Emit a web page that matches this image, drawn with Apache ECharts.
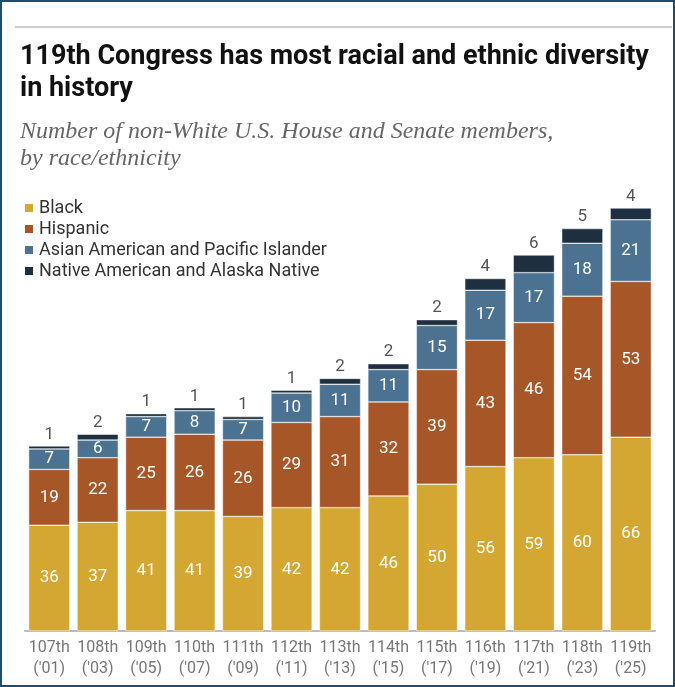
<!DOCTYPE html>
<html>
<head>
<meta charset="utf-8">
<script src="https://cdn.jsdelivr.net/npm/echarts@6/dist/echarts.min.js"></script>
<style>
  html, body { margin: 0; padding: 0; background: #fff; }
  #chart { width: 675px; height: 687px; box-sizing: border-box; border: 2px solid #1d4d6e; }
</style>
</head>
<body>
<div id="chart"></div>
<script>
// Data
const congresses = ["107th", "108th", "109th", "110th", "111th", "112th", "113th", "114th", "115th", "116th", "117th", "118th", "119th"];
const years = ["'01", "'03", "'05", "'07", "'09", "'11", "'13", "'15", "'17", "'19", "'21", "'23", "'25"];
const black = [36, 37, 41, 41, 39, 42, 42, 46, 50, 56, 59, 60, 66];
const hispanic = [19, 22, 25, 26, 26, 29, 31, 32, 39, 43, 46, 54, 53];
const asian = [7, 6, 7, 8, 7, 10, 11, 11, 15, 17, 17, 18, 21];
const native = [1, 2, 1, 1, 1, 1, 2, 2, 2, 4, 6, 5, 4];

const categories = congresses.map((c, i) => c + "\n(" + years[i] + ")");

const chart = echarts.init(document.getElementById("chart"));

const inside = {
    show: true,
    position: "inside",
    color: "#fff",
    fontFamily: "Roboto",
    fontSize: 17
};

const seg = (name, data, color, label) => ({
    name: name,
    type: "bar",
    stack: "total",
    data: data,
    barCategoryGap: "15%",
    itemStyle: { color: color, borderColor: "#fff", borderWidth: 0.5 },
    label: label,
    emphasis: { disabled: true }
});

chart.setOption({
    animation: false,
    textStyle: { fontFamily: "Roboto" },
    title: [
        {
            text: "119th Congress has most racial and ethnic diversity\nin history",
            left: 13,
            top: 34,
            textStyle: { fontFamily: "Roboto", fontWeight: "bold", fontSize: 27, color: "#111", lineHeight: 32 }
        },
        {
            text: "Number of non-White U.S. House and Senate members,\nby race/ethnicity",
            left: 13,
            top: 111,
            textStyle: { fontFamily: "Liberation Serif", fontStyle: "italic", fontWeight: "normal", fontSize: 24, color: "#666", lineHeight: 27 }
        }
    ],
    graphic: [
        {
            type: "line",
            shape: { x1: 13, y1: 25, x2: 670, y2: 25 },
            style: { stroke: "#ccc", lineWidth: 2 }
        }
    ],
    legend: {
        left: 16,
        top: 192,
        orient: "vertical",
        itemWidth: 10,
        itemHeight: 10,
        itemGap: 3,
        icon: "rect",
        textStyle: { fontFamily: "Roboto", fontSize: 18, color: "#333" },
        selectedMode: false
    },
    grid: { left: 23, right: 18, top: 206, bottom: 54 },
    xAxis: {
        type: "category",
        data: categories,
        axisLine: { lineStyle: { color: "#bbb", width: 2 } },
        axisTick: { show: false },
        axisLabel: { color: "#777", fontSize: 16, lineHeight: 21, margin: 6, interval: 0, fontFamily: "Roboto" }
    },
    yAxis: {
        type: "value",
        min: 0,
        max: 144,
        show: false,
        splitLine: { show: false }
    },
    series: [
        seg("Black", black, "#d3a731", inside),
        seg("Hispanic", hispanic, "#a75628", inside),
        seg("Asian American and Pacific Islander", asian, "#4b7291", inside),
        seg("Native American and Alaska Native", native, "#1e2f3f", {
            show: true,
            position: "top",
            distance: 3,
            color: "#555",
            fontFamily: "Roboto",
            fontSize: 17
        })
    ]
});
</script>
</body>
</html>
